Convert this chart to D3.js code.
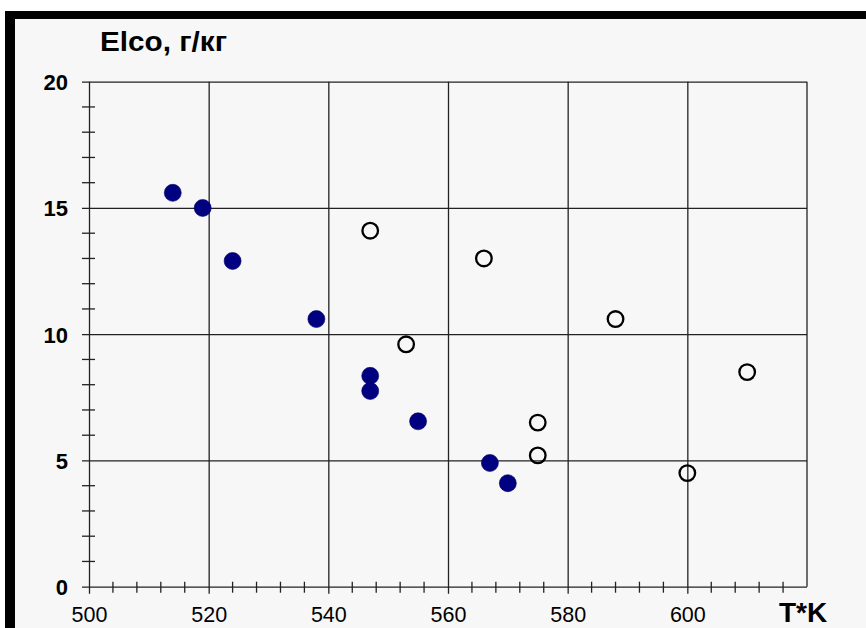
<!DOCTYPE html>
<html>
<head>
<meta charset="utf-8">
<script src="https://cdn.jsdelivr.net/npm/d3@7"></script>
<style>
  html, body { margin: 0; padding: 0; background: #fff; }
  svg { display: block; }
</style>
</head>
<body>
<div id="chart"></div>
<script>
// filled markers (dark blue)
var filledT = [514, 519, 524, 538, 547, 547, 555, 567, 570];
var filledE = [15.6, 15.0, 12.9, 10.6, 8.35, 7.75, 6.55, 4.9, 4.1];
// open markers
var openT = [547, 553, 566, 575, 575, 588, 600, 610];
var openE = [14.1, 9.6, 13.0, 6.5, 5.2, 10.6, 4.5, 8.5];

var xTicks = [500, 520, 540, 560, 580, 600];
var yTicks = [0, 5, 10, 15, 20];
var yTitle = "Elco, г/кг";
var xTitle = "T*K";

(function () {
  "use strict";

  var W = 866, H = 628;
  var left = 89, right = 807, top = 81.7, bottom = 586.7;
  var font = "'Liberation Sans', Arial, sans-serif";

  var x = d3.scaleLinear().domain([500, 620]).range([left, right]);
  var y = d3.scaleLinear().domain([0, 20]).range([bottom, top]);

  var svg = d3.select("#chart").append("svg")
    .attr("width", W)
    .attr("height", H);

  // frame
  svg.append("rect").attr("x", 5).attr("y", 11).attr("width", W - 5).attr("height", H - 11)
    .attr("fill", "#f7f7f7");
  svg.append("rect").attr("x", 5).attr("y", 11).attr("width", W - 5).attr("height", 8)
    .attr("fill", "#000");
  svg.append("rect").attr("x", 5).attr("y", 11).attr("width", 10).attr("height", H - 11)
    .attr("fill", "#000");

  // major grid + ticks via axes
  var xAxis = svg.append("g")
    .attr("transform", "translate(0," + (bottom + 7) + ")")
    .call(d3.axisBottom(x).tickValues(xTicks).tickSizeInner(-(bottom + 7 - top)).tickSizeOuter(0).tickPadding(0));
  xAxis.select(".domain").remove();
  xAxis.selectAll("line").attr("stroke", "#222").attr("stroke-width", 1.3);
  xAxis.selectAll("text")
    .attr("y", 28.5)
    .attr("dy", null)
    .attr("font-family", font)
    .attr("font-size", 21.5)
    .attr("fill", "#000");

  var yAxis = svg.append("g")
    .attr("transform", "translate(" + (left - 7) + ",0)")
    .call(d3.axisLeft(y).tickValues(yTicks).tickSizeInner(-(right - left + 7)).tickSizeOuter(0).tickPadding(14));
  yAxis.select(".domain").remove();
  yAxis.selectAll("line").attr("stroke", "#222").attr("stroke-width", 1.3);
  yAxis.selectAll("text")
    .attr("dy", "0.36em")
    .attr("font-family", font)
    .attr("font-size", 22)
    .attr("font-weight", "bold")
    .attr("fill", "#000");

  // right border
  svg.append("line")
    .attr("x1", x(620)).attr("x2", x(620))
    .attr("y1", y(20)).attr("y2", y(0))
    .attr("stroke", "#222").attr("stroke-width", 1.3);

  // minor ticks
  var xMinor = d3.range(504, 620, 4).filter(function (v) { return v % 20 !== 0; });
  var yMinor = d3.range(1, 20, 1).filter(function (v) { return v % 5 !== 0; });

  svg.append("g").selectAll("line").data(xMinor).join("line")
    .attr("x1", function (d) { return x(d); })
    .attr("x2", function (d) { return x(d); })
    .attr("y1", bottom - 5)
    .attr("y2", bottom + 6)
    .attr("stroke", "#222").attr("stroke-width", 1.3);

  svg.append("g").selectAll("line").data(yMinor).join("line")
    .attr("x1", left - 7)
    .attr("x2", left + 6)
    .attr("y1", function (d) { return y(d); })
    .attr("y2", function (d) { return y(d); })
    .attr("stroke", "#222").attr("stroke-width", 1.3);

  // points
  var filled = filledT.map(function (t, i) { return { t: t, e: filledE[i] }; });
  var open = openT.map(function (t, i) { return { t: t, e: openE[i] }; });

  svg.append("g").selectAll("circle").data(filled).join("circle")
    .attr("cx", function (d) { return x(d.t); })
    .attr("cy", function (d) { return y(d.e); })
    .attr("r", 8.5)
    .attr("fill", "#000080")
    .attr("stroke", "#000060")
    .attr("stroke-width", 0.6);

  svg.append("g").selectAll("circle").data(open).join("circle")
    .attr("cx", function (d) { return x(d.t); })
    .attr("cy", function (d) { return y(d.e); })
    .attr("r", 7.8)
    .attr("fill", "none")
    .attr("stroke", "#000")
    .attr("stroke-width", 2.3);

  // titles
  svg.append("text")
    .attr("x", 100)
    .attr("y", 51)
    .attr("font-family", font)
    .attr("font-size", 27)
    .attr("font-weight", "bold")
    .attr("textLength", 127)
    .attr("lengthAdjust", "spacingAndGlyphs")
    .text(yTitle);

  svg.append("text")
    .attr("x", 779)
    .attr("y", 622)
    .attr("font-family", font)
    .attr("font-size", 28)
    .attr("font-weight", "bold")
    .text(xTitle);
})();
</script>
</body>
</html>
